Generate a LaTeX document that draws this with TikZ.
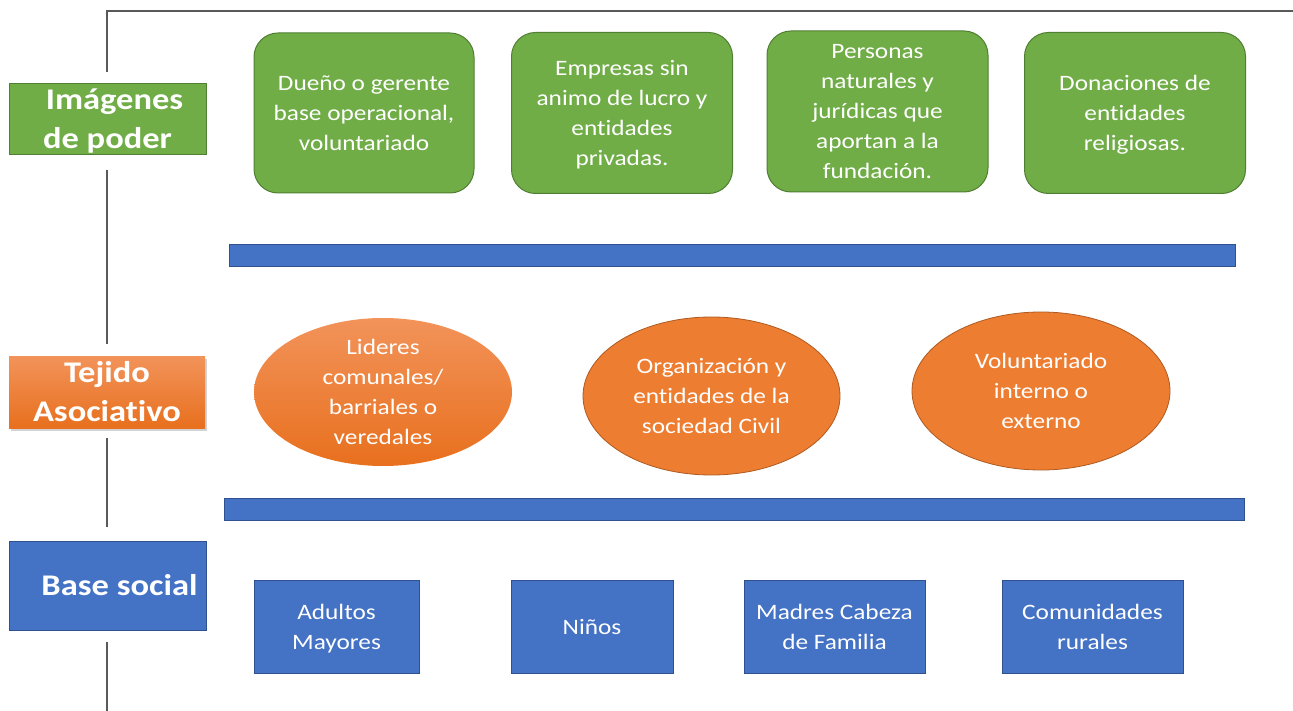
\documentclass[tikz,border=0pt]{standalone}
\usepackage{fontspec}
\setmainfont{Carlito}[FakeStretch=1.15, Ligatures=NoCommon]
\usetikzlibrary{shapes.geometric,shadows}
\newcommand\mystrut{\rule[-0.25\baselineskip]{0pt}{\baselineskip}}
\definecolor{gfill}{HTML}{70AD47}
\definecolor{gline}{HTML}{507E32}
\definecolor{ofill}{HTML}{ED7D31}
\definecolor{oline}{HTML}{AE5A21}
\definecolor{otop}{HTML}{F2935A}
\definecolor{obot}{HTML}{E8701E}
\definecolor{bfill}{HTML}{4472C4}
\definecolor{bline}{HTML}{2F528F}
\definecolor{lgray}{HTML}{595959}
\tikzset{
  txt/.style={text=white, align=center, inner sep=0pt, font=\fontsize{22}{30}\selectfont},
  lbl/.style={text=white, align=center, inner xsep=0pt, inner ysep=-6pt, font=\fontsize{30}{39}\selectfont\bfseries},
  gbox/.style={txt, draw=gline, fill=gfill, line width=1pt, rounded corners=24pt},
  bbox/.style={txt, draw=bline, fill=bfill, line width=1pt},
  bar/.style={draw=bline, fill=bfill, line width=1pt, inner sep=0pt, minimum height=22pt},
  oell/.style={txt, ellipse, inner sep=-30pt, draw=oline, fill=ofill, line width=0.8pt},
  oshade/.style={txt, ellipse, inner sep=-30pt, top color=otop, bottom color=obot},
  vline/.style={draw=lgray, line width=1.3pt},
}
\begin{document}
\begin{tikzpicture}[x=1pt,y=-1pt]
\useasboundingbox (0,0) rectangle (1293,711);
% left labels
\node[lbl, draw=gline, fill=gfill, line width=1pt, minimum width=197pt, minimum height=71pt] (img) at (107.5,119.5) {\mystrut\hspace*{14pt}Imágenes\\de poder\mystrut};
\node[lbl, top color=otop, bottom color=obot, minimum width=196pt, minimum height=72pt,
      drop shadow={opacity=0.35, shadow xshift=1.5pt, shadow yshift=-3pt}] (tej) at (107,392) {\mystrut Tejido\\Asociativo\mystrut};
\node[lbl, inner ysep=0pt, draw=bline, fill=bfill, line width=1pt, minimum width=197pt, minimum height=89pt] (base) at (107.5,585.5) {\hspace*{24pt}Base social};
% frame lines
\coordinate (tl) at (107,11);
\coordinate (tr) at (1293,11);
\coordinate (a1) at (107,72);
\coordinate (a2) at (107,170);
\coordinate (a3) at (107,344);
\coordinate (a4) at (107,438);
\coordinate (a5) at (107,527);
\coordinate (a6) at (107,642);
\coordinate (a7) at (107,711);
\draw[vline] (tr) -- (tl) -- (a1);
\draw[vline] (a2) -- (a3);
\draw[vline] (a4) -- (a5);
\draw[vline] (a6) -- (a7);
% green boxes
\node[gbox, minimum width=220pt, minimum height=160pt] (g1) at (364,113) {\mystrut Dueño o gerente\\base operacional,\\voluntariado\mystrut};
\node[gbox, minimum width=221pt, minimum height=161pt] (g2) at (622,113) {\mystrut Empresas sin\\animo de lucro y\\entidades\\privadas.\mystrut};
\node[gbox, minimum width=221pt, minimum height=161pt] (g3) at (877.5,111.5) {\mystrut Personas\\naturales y\\jurídicas que\\aportan a la\\fundación.\mystrut};
\node[gbox, minimum width=221pt, minimum height=161pt] (g4) at (1135,113) {\mystrut Donaciones de\\entidades\\religiosas.\mystrut};
% bars
\node[bar, minimum width=1006pt] (bar1) at (732,255.5) {};
\node[bar, minimum width=1020pt] (bar2) at (734,509.5) {};
% ellipses
\node[oshade, minimum width=258pt, minimum height=148pt] (e1) at (383,392) {\mystrut Lideres\\comunales/\\barriales o\\veredales\mystrut};
\node[oell, minimum width=257pt, minimum height=158pt] (e2) at (711.5,396) {\mystrut Organización y\\entidades de la\\sociedad Civil\mystrut};
\node[oell, minimum width=258pt, minimum height=158pt] (e3) at (1041,391) {\mystrut Voluntariado\\interno o\\externo\mystrut};
% blue boxes
\node[bbox, minimum width=165pt, minimum height=93pt] (b1) at (336.5,627) {\mystrut Adultos\\Mayores\mystrut};
\node[bbox, minimum width=162pt, minimum height=93pt] (b2) at (592,627) {Niños};
\node[bbox, minimum width=181pt, minimum height=93pt] (b3) at (834.5,627) {\mystrut Madres Cabeza\\de Familia\mystrut};
\node[bbox, minimum width=181pt, minimum height=93pt] (b4) at (1092.5,627) {\mystrut Comunidades\\rurales\mystrut};
\end{tikzpicture}
\end{document}
